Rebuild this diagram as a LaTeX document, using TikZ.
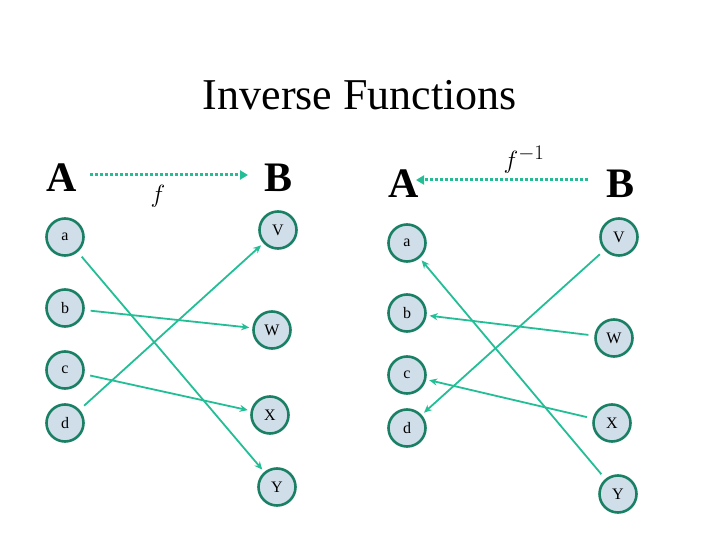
\documentclass[tikz,border=0pt]{standalone}
\usepackage{fontspec}
\setmainfont{Liberation Serif}
\usetikzlibrary{arrows.meta}
\definecolor{ringgreen}{RGB}{25,128,100}
\definecolor{ballfill}{RGB}{208,222,234}
\definecolor{mapteal}{RGB}{35,190,150}
\tikzstyle{elem}=[
  draw=ringgreen,
  line width=2.6pt,
  fill=ballfill,
  circle,
  minimum size=37pt,
  inner sep=0pt,
  font=\fontsize{16}{16}\selectfont
]
\tikzstyle{map}=[
  draw=mapteal,
  line width=1.8pt,
  -{Stealth[length=8pt,width=7pt]},
  shorten <=6pt,
  shorten >=3pt
]
\tikzstyle{setname}=[font=\fontsize{42}{42}\selectfont\bfseries]
\tikzstyle{bigmap}=[
  draw=mapteal,
  line width=3pt,
  dotted,
  -{Triangle[length=8pt,width=9pt]}
]

\begin{document}
\begin{tikzpicture}[x=1pt,y=-1pt]
  \useasboundingbox (0,0) rectangle (720,540);

  \node[font=\fontsize{44}{44}\selectfont] (title) at (360,95) {Inverse Functions};

  % left picture: f
  \node[setname] (A1) at (62,178) {A};
  \node[setname] (B1) at (279,178) {B};
  \coordinate (f0) at (90,175);
  \coordinate (f1) at (248,175);
  \draw[bigmap] (f0) -- (f1);
  \node[font=\fontsize{28}{28}\selectfont] (flab) at (158,196) {$f$};

  \foreach \n/\y in {a/237,b/308,c/370,d/423}{
    \node[elem] (l\n) at (65,\y) {\n};
  }
  \foreach \n/\x/\y in {V/278/230,W/272/330,X/270/415,Y/277/487}{
    \node[elem] (l\n) at (\x,\y) {\n};
  }
  \draw[map] (la) -- (lY);
  \draw[map] (lb) -- (lW);
  \draw[map] (lc) -- (lX);
  \draw[map] (ld) -- (lV);

  % right picture: f inverse
  \node[setname] (A2) at (404,184) {A};
  \node[setname] (B2) at (620,184) {B};
  \coordinate (g0) at (588,180);
  \coordinate (g1) at (416,180);
  \draw[bigmap] (g0) -- (g1);
  \node[font=\fontsize{28}{28}\selectfont] (glab) at (524,160) {$f^{-1}$};

  \foreach \n/\y in {a/243,b/313,c/375,d/428}{
    \node[elem] (r\n) at (407,\y) {\n};
  }
  \foreach \n/\x/\y in {V/619/237,W/614/338,X/612/423,Y/618/494}{
    \node[elem] (r\n) at (\x,\y) {\n};
  }
  \draw[map] (rY) -- (ra);
  \draw[map] (rW) -- (rb);
  \draw[map] (rX) -- (rc);
  \draw[map] (rV) -- (rd);
\end{tikzpicture}
\end{document}
